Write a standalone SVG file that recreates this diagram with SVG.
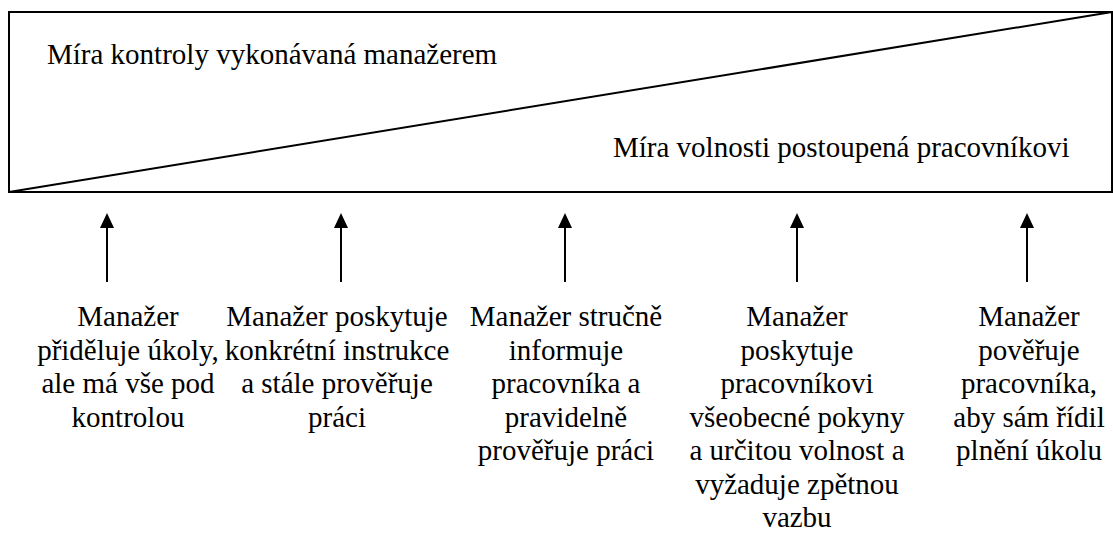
<svg xmlns="http://www.w3.org/2000/svg" width="1113" height="553" viewBox="0 0 1113 553">
<style>
text{font-size:29px;fill:#000}
.c{text-anchor:middle}
.ln{stroke:#000;stroke-width:2;fill:none}
</style>
<rect id="frame" x="9" y="12" width="1103" height="180" fill="#fff" stroke="#000" stroke-width="2"/>
<line class="ln" x1="9" y1="192" x2="1112" y2="12"/>
<text x="47" y="64" font-family="Liberation Serif">Míra kontroly vykonávaná manažerem</text>
<text x="613" y="157" font-family="Liberation Serif">Míra volnosti postoupená pracovníkovi</text>
<g id="connectors">
<line class="ln" x1="107" y1="282" x2="107" y2="224"/><polygon points="107,213 100,228 114,228"/>
<line class="ln" x1="341" y1="282" x2="341" y2="224"/><polygon points="341,213 334,228 348,228"/>
<line class="ln" x1="565" y1="282" x2="565" y2="224"/><polygon points="565,213 558,228 572,228"/>
<line class="ln" x1="797" y1="282" x2="797" y2="224"/><polygon points="797,213 790,228 804,228"/>
<line class="ln" x1="1027" y1="282" x2="1027" y2="224"/><polygon points="1027,213 1020,228 1034,228"/>
</g>
<g id="n1"><text class="c" y="326" font-family="Liberation Serif"><tspan x="128">Manažer</tspan><tspan x="128" dy="33.5">přiděluje úkoly,</tspan><tspan x="128" dy="33.5">ale má vše pod</tspan><tspan x="128" dy="33.5">kontrolou</tspan></text></g>
<g id="n2"><text class="c" y="326" font-family="Liberation Serif"><tspan x="337">Manažer poskytuje</tspan><tspan x="337" dy="33.5">konkrétní instrukce</tspan><tspan x="337" dy="33.5">a stále prověřuje</tspan><tspan x="337" dy="33.5">práci</tspan></text></g>
<g id="n3"><text class="c" y="326" font-family="Liberation Serif"><tspan x="566">Manažer stručně</tspan><tspan x="566" dy="33.5">informuje</tspan><tspan x="566" dy="33.5">pracovníka a</tspan><tspan x="566" dy="33.5">pravidelně</tspan><tspan x="566" dy="33.5">prověřuje práci</tspan></text></g>
<g id="n4"><text class="c" y="326" font-family="Liberation Serif"><tspan x="797">Manažer</tspan><tspan x="797" dy="33.5">poskytuje</tspan><tspan x="797" dy="33.5">pracovníkovi</tspan><tspan x="797" dy="33.5">všeobecné pokyny</tspan><tspan x="797" dy="33.5">a určitou volnost a</tspan><tspan x="797" dy="33.5">vyžaduje zpětnou</tspan><tspan x="797" dy="33.5">vazbu</tspan></text></g>
<g id="n5"><text class="c" y="326" font-family="Liberation Serif"><tspan x="1029">Manažer</tspan><tspan x="1029" dy="33.5">pověřuje</tspan><tspan x="1029" dy="33.5">pracovníka,</tspan><tspan x="1029" dy="33.5">aby sám řídil</tspan><tspan x="1029" dy="33.5">plnění úkolu</tspan></text></g>
</svg>
